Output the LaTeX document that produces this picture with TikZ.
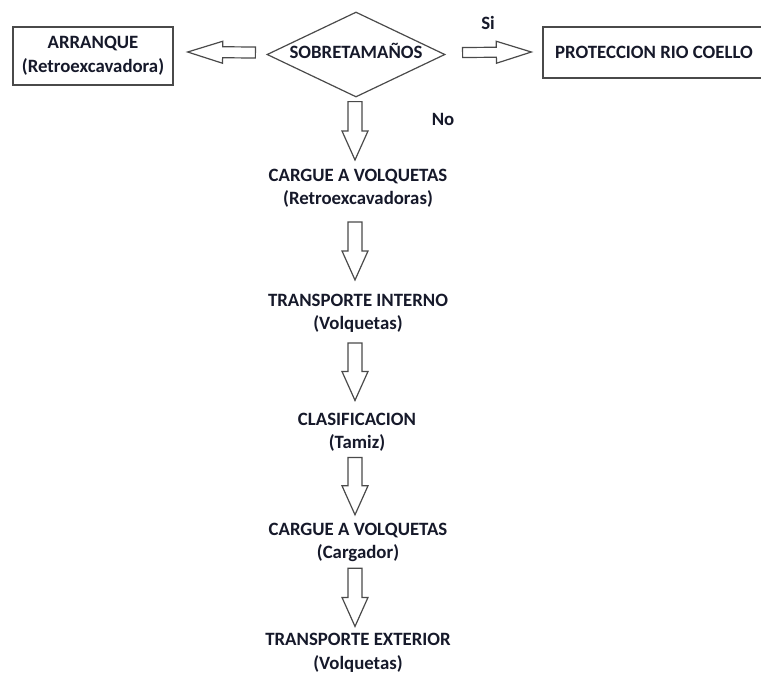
\documentclass[tikz,border=0pt]{standalone}
\usepackage{fontspec}
\setmainfont{Carlito}
\usetikzlibrary{shapes.geometric,calc}
\definecolor{inkline}{HTML}{4A4A4A}
\definecolor{inktext}{HTML}{16192A}
\tikzset{
  lbl/.style={font=\bfseries\fontsize{18.8}{23.5}\selectfont, text=inktext, align=center, inner sep=0pt},
  boxnode/.style={lbl, draw=inkline, line width=1.3pt, rectangle},
  blockarrow/.style={draw=inkline, line width=1.2pt, line join=miter, fill=white}
}
% #1 shaft half width, #2 head half width, #3 head length, #4 start, #5 tip
\newcommand\flowarrow[5]{%
  \coordinate (fa-h) at ($(#5)!#3!(#4)$);
  \draw[blockarrow] ($(#4)!#1!90:(#5)$) -- ($(fa-h)!#1!90:(#5)$) -- ($(fa-h)!#2!90:(#5)$) -- (#5)
    -- ($(fa-h)!#2!-90:(#5)$) -- ($(fa-h)!#1!-90:(#5)$) -- ($(#4)!#1!-90:(#5)$) -- cycle;}
\begin{document}
\begin{tikzpicture}[x=1pt,y=-1pt]
\useasboundingbox (0,0) rectangle (761,673);
\clip (0,0) rectangle (761,673);
\fill[white] (0,0) rectangle (761,673);

\node[lbl, diamond, aspect=2.094, draw=inkline, line width=1.2pt, minimum width=178pt, minimum height=85pt, text height=8pt, text depth=0pt] (dia) at (356,54.5) {SOBRETAMAÑOS};
\node[boxnode, minimum width=160pt, minimum height=58pt] (arr) at (93,56) {ARRANQUE\\(Retroexcavadora)};
\node[boxnode, minimum width=222pt, minimum height=51pt] (pro) at (654,52.5) {PROTECCION RIO COELLO};

\node[lbl] (si) at (488,23) {Si};
\node[lbl] (no) at (443,119) {No};

\node[lbl] (c1) at (358,188.5) {CARGUE A VOLQUETAS\\(Retroexcavadoras)};
\node[lbl] (t1) at (358,313.5) {TRANSPORTE INTERNO\\(Volquetas)};
\node[lbl] (cl) at (357,432) {CLASIFICACION\\(Tamiz)};
\node[lbl] (c2) at (358,542.5) {CARGUE A VOLQUETAS\\(Cargador)};
\node[lbl] (te) at (358,653) {TRANSPORTE EXTERIOR\\(Volquetas)};

% horizontal arrows
\coordinate (l-s) at ($(dia.west)+(-11,-2)$);
\coordinate (l-e) at ($(arr.east)+(14,-4)$);
\flowarrow{5.5pt}{11pt}{35pt}{l-s}{l-e}
\coordinate (r-s) at ($(dia.east)+(17,-2)$);
\coordinate (r-e) at ($(pro.west)+(-11,-0.5)$);
\flowarrow{5pt}{11pt}{35pt}{r-s}{r-e}

% vertical arrows
\coordinate (a1s) at ($(dia.south)+(-1,4)$);
\coordinate (a1e) at ($(c1.north)+(-3,-9)$);
\flowarrow{7pt}{13pt}{29pt}{a1s}{a1e}
\coordinate (a2s) at ($(c1.south)+(-3,14)$);
\coordinate (a2e) at ($(t1.north)+(-3,-14)$);
\flowarrow{7pt}{13pt}{29pt}{a2s}{a2e}
\coordinate (a3s) at ($(t1.south)+(-3,10)$);
\coordinate (a3e) at ($(cl.north)+(-2,-12)$);
\flowarrow{7pt}{13pt}{29pt}{a3s}{a3e}
\coordinate (a4s) at ($(cl.south)+(-2,6)$);
\coordinate (a4e) at ($(c2.north)+(-3,-8)$);
\flowarrow{7pt}{13pt}{29pt}{a4s}{a4e}
\coordinate (a5s) at ($(c2.south)+(-3,6)$);
\coordinate (a5e) at ($(te.north)+(-3,-7)$);
\flowarrow{7pt}{13pt}{29pt}{a5s}{a5e}
\end{tikzpicture}
\end{document}
